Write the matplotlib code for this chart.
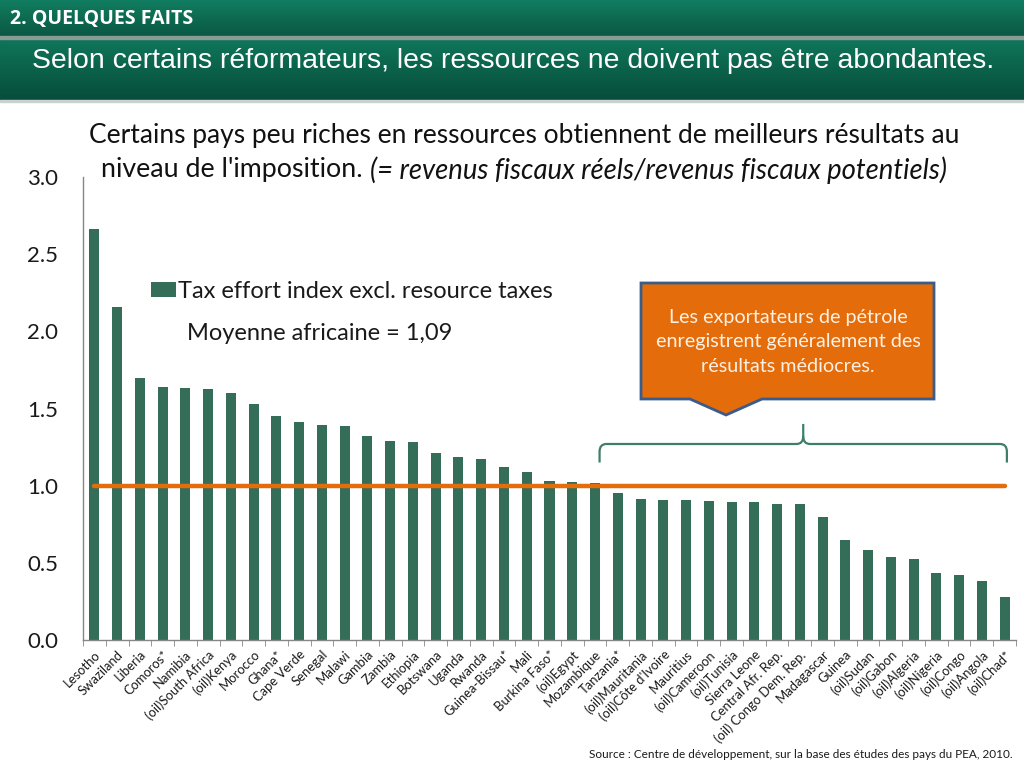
import matplotlib
matplotlib.use("Agg")
import matplotlib.pyplot as plt
import numpy as np
from matplotlib.patches import Polygon, Rectangle, PathPatch
from matplotlib.path import Path

countries = ["Lesotho", "Swaziland", "Liberia", "Comoros*", "Namibia", "(oil)South Africa",
             "(oil)Kenya", "Morocco", "Ghana*", "Cape Verde", "Senegal", "Malawi", "Gambia",
             "Zambia", "Ethiopia", "Botswana", "Uganda", "Rwanda", "Guinea-Bissau*", "Mali",
             "Burkina Faso*", "(oil)Egypt", "Mozambique", "Tanzania*", "(oil)Mauritania",
             "(oil)Côte d'Ivoire", "Mauritius", "(oil)Cameroon", "(oil)Tunisia", "Sierra Leone",
             "Central Afr. Rep.", "(oil) Congo Dem. Rep.", "Madagascar", "Guinea", "(oil)Sudan",
             "(oil)Gabon", "(oil)Algeria", "(oil)Nigeria", "(oil)Congo", "(oil)Angola", "(oil)Chad*"]
tax_effort = [2.66, 2.16, 1.70, 1.64, 1.63, 1.625, 1.60, 1.53, 1.45, 1.41, 1.39, 1.385, 1.32,
              1.29, 1.283, 1.21, 1.186, 1.173, 1.12, 1.087, 1.03, 1.026, 1.02, 0.955, 0.916,
              0.905, 0.905, 0.90, 0.896, 0.892, 0.88, 0.878, 0.80, 0.65, 0.58, 0.536, 0.523,
              0.436, 0.42, 0.382, 0.28]
average_line = 1.0
yticks = [0.0, 0.5, 1.0, 1.5, 2.0, 2.5, 3.0]

FONT = "Lato"
W, H = 1024, 768
fig = plt.figure(figsize=(W / 100, H / 100), dpi=100)

# background / header axes in pixel coordinates
bg = fig.add_axes([0, 0, 1, 1], zorder=0)
bg.set_xlim(0, W)
bg.set_ylim(H, 0)
bg.axis("off")

def grad(y0, y1, c_top, c_bot):
    n = 64
    t = np.linspace(0, 1, n)[:, None]
    c0 = np.array(matplotlib.colors.to_rgb(c_top))
    c1 = np.array(matplotlib.colors.to_rgb(c_bot))
    img = (c0[None, None, :] * (1 - t[..., None]) + c1[None, None, :] * t[..., None])
    img = np.repeat(img, 2, axis=1)
    bg.imshow(img, extent=[0, W, y1, y0], aspect="auto", interpolation="bilinear", zorder=1)

grad(0, 36, "#117d60", "#0a5843")
bg.add_patch(Rectangle((0, 36), W, 3, color="#8a9a94", zorder=2))
grad(39, 100, "#0f765a", "#074d3b")
bg.add_patch(Rectangle((0, 100), W, 2, color="#c9d2ce", zorder=2))
bg.set_xlim(0, W)
bg.set_ylim(H, 0)

bg.text(10, 19, "2. QUELQUES FAITS", color="white", fontsize=14, fontweight="bold",
        family="Open Sans", va="center", ha="left", zorder=3)
bg.text(32, 61, "Selon certains réformateurs, les ressources ne doivent pas être abondantes.",
        color="white", fontsize=20.4, family="Liberation Sans", va="center", ha="left", zorder=3)

bg.text(1013, 755, "Source : Centre de développement, sur la base des études des pays du PEA, 2010.",
        fontsize=8.5, family=FONT, ha="right", va="center", color="#1a1a1a")

# main chart
ax = fig.add_axes([83 / W, 1 - 640 / H, (1016 - 83) / W, (640 - 177) / H], zorder=2)
ax.patch.set_alpha(0)
x = np.arange(len(countries))
bars = ax.bar(x, tax_effort, width=0.44, color="#346e58", zorder=2,
              label="Tax effort index excl. resource taxes")
ax.plot([x[0], x[-1]], [average_line, average_line], color="#e46c0a", lw=3.2,
        solid_capstyle="round", zorder=3)
ax.set_xlim(-0.5, len(countries) - 0.5)
ax.set_ylim(0, 3.0)
ax.set_yticks(yticks)
ax.set_yticklabels([f"{v:.1f}" for v in yticks], fontsize=16, family=FONT, color="#1a1a1a")
ax.tick_params(axis="y", length=0, pad=18)
ax.set_xticks(x)
ax.set_xticklabels(countries, rotation=45, ha="right", rotation_mode="anchor",
                   fontsize=9.4, family=FONT, color="#1a1a1a")
ax.tick_params(axis="x", which="major", length=0, pad=6)
ax.set_xticks(np.arange(-0.5, len(countries), 1.0), minor=True)
ax.tick_params(axis="x", which="minor", length=4, color="#868686", direction="out")
for s in ["top", "right"]:
    ax.spines[s].set_visible(False)
for s in ["left", "bottom"]:
    ax.spines[s].set_color("#868686")
    ax.spines[s].set_linewidth(1.0)

# brace over oil exporters region (data coords)
xa, xb, xm = 22.2, 40.1, 31.15
yb, yh, yt = 1.15, 1.27, 1.40
r = 0.05
verts = [(xa, yb), (xa, yh - r), (xa, yh), (xa + 0.3, yh),
         (xm - 0.3, yh), (xm, yh), (xm, yh + r), (xm, yt)]
codes = [Path.MOVETO, Path.LINETO, Path.CURVE3, Path.CURVE3,
         Path.LINETO, Path.CURVE3, Path.CURVE3, Path.LINETO]
ax.add_patch(PathPatch(Path(verts, codes), fill=False, ec="#3f7f69", lw=1.6, zorder=4))
verts2 = [(xb, yb), (xb, yh - r), (xb, yh), (xb - 0.3, yh),
          (xm + 0.3, yh), (xm, yh), (xm, yh + r)]
codes2 = [Path.MOVETO, Path.LINETO, Path.CURVE3, Path.CURVE3,
          Path.LINETO, Path.CURVE3, Path.CURVE3]
ax.add_patch(PathPatch(Path(verts2, codes2), fill=False, ec="#3f7f69", lw=1.6, zorder=4))

# legend
leg = ax.legend(handles=[bars], loc="upper left", bbox_to_anchor=(151 / W, 1 - 281 / H),
                bbox_transform=fig.transFigure, frameon=False, handlelength=1.05,
                handleheight=0.62, handletextpad=0.1, borderaxespad=0, borderpad=0,
                prop={"family": FONT, "size": 17})
for t in leg.get_texts():
    t.set_color("#1a1a1a")

# overlay for callout and text
ov = fig.add_axes([0, 0, 1, 1], zorder=5)
ov.set_xlim(0, W)
ov.set_ylim(H, 0)
ov.axis("off")
ov.patch.set_alpha(0)

ov.text(187, 333, "Moyenne africaine = 1,09", fontsize=17, family=FONT, va="center",
        ha="left", color="#1a1a1a")

callout = [(641, 283), (934, 283), (934, 399), (762, 399), (726, 415), (690, 399), (641, 399)]
ov.add_patch(Polygon(callout, closed=True, fc="#e46c0a", ec="#3b5b8a", lw=2, zorder=2))
for i, line in enumerate(["Les exportateurs de pétrole",
                          "enregistrent généralement des",
                          "résultats médiocres."]):
    ov.text(788, 318 + i * 24, line, fontsize=14.2, family=FONT, ha="center", va="center",
            color="#fdf1e6", zorder=3)

# title
t1 = ov.text(524, 135, "Certains pays peu riches en ressources obtiennent de meilleurs résultats au",
             fontsize=19, family=FONT, ha="center", va="center", color="#111111")
part_a = "niveau de l'imposition. "
part_b = "(= revenus fiscaux réels/revenus fiscaux potentiels)"
ta = ov.text(0, 170, part_a, fontsize=19.3, family=FONT, ha="left", va="center", color="#111111")
tb = ov.text(0, 170, part_b, fontsize=19.8, family=FONT, style="italic", ha="left",
             va="center", color="#111111")
fig.canvas.draw()
rend = fig.canvas.get_renderer()
wa = ta.get_window_extent(rend).width
wb = tb.get_window_extent(rend).width
x0 = 524 - (wa + wb) / 2
ta.set_x(x0)
tb.set_x(x0 + wa)

fig.savefig("out.png", dpi=100)
